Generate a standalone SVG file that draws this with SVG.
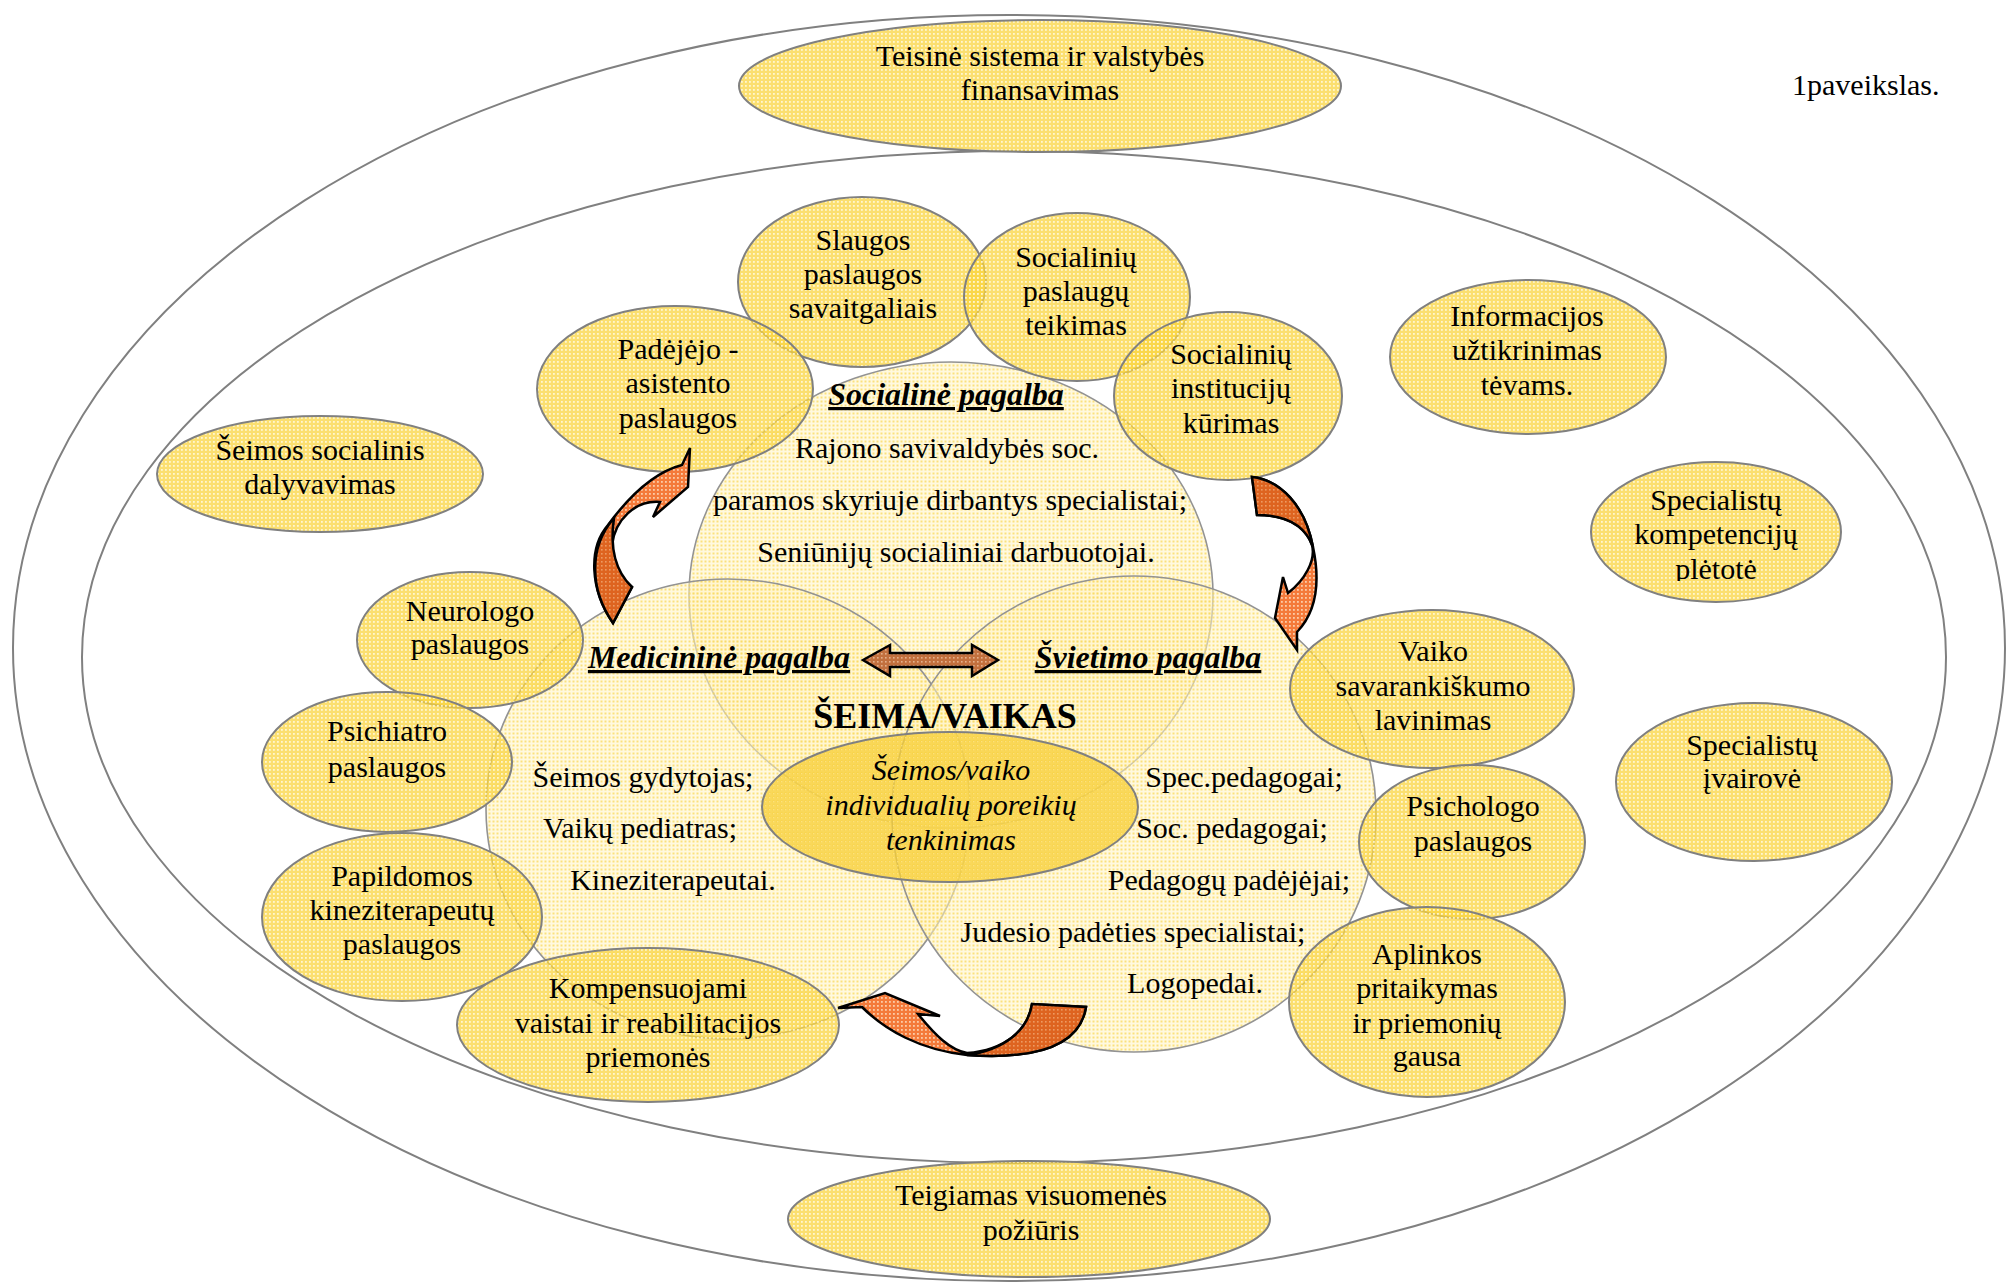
<svg xmlns="http://www.w3.org/2000/svg" width="2007" height="1283" viewBox="0 0 2007 1283">
<defs>
<pattern id="pn" width="4" height="4" patternUnits="userSpaceOnUse">
<rect width="4" height="4" fill="#FAD43E" fill-opacity="0.74"/>
<rect x="1" y="1" width="1.8" height="1.8" fill="#FFFBE0" fill-opacity="0.85"/>
</pattern>
<pattern id="pb" width="4" height="4" patternUnits="userSpaceOnUse">
<rect width="4" height="4" fill="#FFF4C4" fill-opacity="0.55"/>
<rect x="0.5" y="0.5" width="2" height="2" fill="#F8D448" fill-opacity="0.65"/>
</pattern>
<pattern id="pc" width="4" height="4" patternUnits="userSpaceOnUse">
<rect width="4" height="4" fill="#F8CE34" fill-opacity="0.78"/>
<rect x="1" y="1" width="1.4" height="1.4" fill="#FDE68C" fill-opacity="0.8"/>
</pattern>
<pattern id="pol" width="4" height="4" patternUnits="userSpaceOnUse">
<rect width="4" height="4" fill="#F47A3A"/>
<rect x="1" y="1" width="1.8" height="1.8" fill="#FCCBA8"/>
</pattern>
<pattern id="pod" width="4" height="4" patternUnits="userSpaceOnUse">
<rect width="4" height="4" fill="#DE6420"/>
<rect x="1" y="1" width="1.6" height="1.6" fill="#EE9A62"/>
</pattern>
<pattern id="pbr" width="4" height="4" patternUnits="userSpaceOnUse">
<rect width="4" height="4" fill="#C2703E"/>
<rect x="1" y="1" width="1.6" height="1.6" fill="#E4B08C"/>
</pattern>
<clipPath id="clipPl"><rect x="1500" y="460" width="440" height="121"/></clipPath>
</defs>
<style>
.ring{fill:none;stroke:#808080;stroke-width:2}
.node{fill:url(#pn);stroke:#808080;stroke-width:2}
.big{fill:url(#pb);stroke:#939393;stroke-width:1.6}
.core{fill:url(#pc);stroke:#808080;stroke-width:2}
text{font-family:"Liberation Serif","Times New Roman",serif;font-size:30px;fill:#000;text-anchor:middle}
.h{font-weight:bold;font-style:italic;font-size:32px;text-decoration:underline}
.it{font-style:italic}
.t{font-weight:bold;font-size:36px}
.arr{stroke:#000;stroke-width:2.5;stroke-linejoin:miter}
</style>
<rect width="2007" height="1283" fill="#fff"/>
<g id="rings">
<ellipse class="ring" cx="1009" cy="648" rx="996" ry="633"/>
<ellipse class="ring" cx="1014" cy="657" rx="932" ry="506"/>
</g>
<g id="teisine">
<ellipse class="node" cx="1040" cy="86" rx="301" ry="66"/>
<text x="1040" y="66">Teisinė sistema ir valstybės</text>
<text x="1040" y="100">finansavimas</text>
</g>
<text x="1792" y="95" style="text-anchor:start">1paveikslas.</text>
<g id="socialine">
<ellipse class="big" cx="951" cy="595" rx="262" ry="233"/>
</g>
<g id="medicinine">
<ellipse class="big" cx="728" cy="809" rx="242" ry="230"/>
</g>
<g id="svietimo">
<ellipse class="big" cx="1134" cy="814" rx="242" ry="238"/>
</g>
<g id="seima">
<ellipse class="core" cx="950" cy="807" rx="188" ry="75"/>
</g>
<g id="slaugos">
<ellipse class="node" cx="862" cy="282" rx="124" ry="85"/>
<text x="863" y="250">Slaugos</text>
<text x="863" y="284">paslaugos</text>
<text x="863" y="318">savaitgaliais</text>
</g>
<g id="socpaslaugu">
<ellipse class="node" cx="1077" cy="297" rx="113" ry="84"/>
<text x="1076" y="267">Socialinių</text>
<text x="1076" y="301">paslaugų</text>
<text x="1076" y="335">teikimas</text>
</g>
<g id="padejejo">
<ellipse class="node" cx="675" cy="389" rx="138" ry="83"/>
<text x="678" y="359">Padėjėjo -</text>
<text x="678" y="393">asistento</text>
<text x="678" y="428">paslaugos</text>
</g>
<g id="socinstituciju">
<ellipse class="node" cx="1228" cy="396" rx="114" ry="84"/>
<text x="1231" y="364">Socialinių</text>
<text x="1231" y="398">institucijų</text>
<text x="1231" y="433">kūrimas</text>
</g>
<g id="informacijos">
<ellipse class="node" cx="1528" cy="357" rx="138" ry="77"/>
<text x="1527" y="326">Informacijos</text>
<text x="1527" y="360">užtikrinimas</text>
<text x="1527" y="395">tėvams.</text>
</g>
<g id="seimossoc">
<ellipse class="node" cx="320" cy="474" rx="163" ry="58"/>
<text x="320" y="460">Šeimos socialinis</text>
<text x="320" y="494">dalyvavimas</text>
</g>
<g id="kompetenciju">
<ellipse class="node" cx="1716" cy="532" rx="125" ry="70"/>
<text x="1716" y="510">Specialistų</text>
<text x="1716" y="544">kompetencijų</text>
<text x="1716" y="579" clip-path="url(#clipPl)">plėtotė</text>
</g>
<g id="ivairove">
<ellipse class="node" cx="1754" cy="782" rx="138" ry="79"/>
<text x="1752" y="755">Specialistų</text>
<text x="1752" y="788">įvairovė</text>
</g>
<g id="neurologo">
<ellipse class="node" cx="470" cy="640" rx="113" ry="68"/>
<text x="470" y="621">Neurologo</text>
<text x="470" y="654">paslaugos</text>
</g>
<g id="psichiatro">
<ellipse class="node" cx="387" cy="762" rx="125" ry="70"/>
<text x="387" y="741">Psichiatro</text>
<text x="387" y="777">paslaugos</text>
</g>
<g id="papildomos">
<ellipse class="node" cx="402" cy="917" rx="140" ry="84"/>
<text x="402" y="886">Papildomos</text>
<text x="402" y="920">kineziterapeutų</text>
<text x="402" y="954">paslaugos</text>
</g>
<g id="kompensuojami">
<ellipse class="node" cx="648" cy="1025" rx="191" ry="77"/>
<text x="648" y="998">Kompensuojami</text>
<text x="648" y="1033">vaistai ir reabilitacijos</text>
<text x="648" y="1067">priemonės</text>
</g>
<g id="vaiko">
<ellipse class="node" cx="1432" cy="689" rx="142" ry="79"/>
<text x="1433" y="661">Vaiko</text>
<text x="1433" y="696">savarankiškumo</text>
<text x="1433" y="730">lavinimas</text>
</g>
<g id="psichologo">
<ellipse class="node" cx="1472" cy="842" rx="113" ry="77"/>
<text x="1473" y="816">Psichologo</text>
<text x="1473" y="851">paslaugos</text>
</g>
<g id="aplinkos">
<ellipse class="node" cx="1427" cy="1002" rx="138" ry="95"/>
<text x="1427" y="964">Aplinkos</text>
<text x="1427" y="998">pritaikymas</text>
<text x="1427" y="1033">ir priemonių</text>
<text x="1427" y="1066">gausa</text>
</g>
<g id="teigiamas">
<ellipse class="node" cx="1029" cy="1219" rx="241" ry="58"/>
<text x="1031" y="1205">Teigiamas visuomenės</text>
<text x="1031" y="1240">požiūris</text>
</g>
<g id="connectors">
<path class="arr" fill="url(#pol)" d="M613,623 C590,590 588,548 608,525 C630,495 655,472 682,465 L690,448 L688,487 L653,517 L660,502 C635,500 615,520 612,545 C611,565 620,578 632,587 Z"/>
<path class="arr" fill="url(#pod)" d="M613,623 C590,590 588,548 614,518 C610,545 614,570 632,587 Z"/>
<path class="arr" fill="url(#pol)" d="M1252,477 C1280,480 1305,505 1313,547 C1320,580 1318,610 1297,632 L1297,650 L1275,618 L1283,577 L1288,593 C1305,580 1316,560 1312,545 C1305,525 1285,515 1257,515 Z"/>
<path class="arr" fill="url(#pod)" d="M1252,477 C1280,480 1305,505 1313,547 C1305,525 1285,515 1257,515 Z"/>
<path class="arr" fill="url(#pol)" d="M1086,1007 C1080,1045 1040,1060 967,1055 C920,1050 885,1030 862,1007 L838,1008 L885,993 L940,1016 L918,1014 C935,1035 950,1050 967,1053 C1005,1050 1028,1030 1032,1004 Z"/>
<path class="arr" fill="url(#pod)" d="M1086,1007 C1080,1045 1040,1060 967,1055 C1005,1050 1028,1030 1032,1004 Z"/>
<path class="arr" fill="url(#pbr)" d="M863,660 L890,645 L890,653 L972,653 L972,645 L998,660 L972,676 L972,667 L890,667 L890,676 Z"/>
</g>
<g id="labels">
<text class="h" x="946" y="405">Socialinė pagalba</text>
<text x="947" y="458">Rajono savivaldybės soc.</text>
<text x="950" y="510">paramos skyriuje dirbantys specialistai;</text>
<text x="956" y="562">Seniūnijų socialiniai darbuotojai.</text>
<text class="h" x="719" y="668">Medicininė pagalba</text>
<text class="h" x="1148" y="668">Švietimo pagalba</text>
<text class="t" x="945" y="728">ŠEIMA/VAIKAS</text>
<text class="it" x="951" y="780">Šeimos/vaiko</text>
<text class="it" x="951" y="815">individualių poreikių</text>
<text class="it" x="951" y="850">tenkinimas</text>
<text x="643" y="787">Šeimos gydytojas;</text>
<text x="640" y="838">Vaikų pediatras;</text>
<text x="673" y="890">Kineziterapeutai.</text>
<text x="1244" y="787">Spec.pedagogai;</text>
<text x="1232" y="838">Soc. pedagogai;</text>
<text x="1229" y="890">Pedagogų padėjėjai;</text>
<text x="1133" y="942">Judesio padėties specialistai;</text>
<text x="1195" y="993">Logopedai.</text>
</g>
</svg>
